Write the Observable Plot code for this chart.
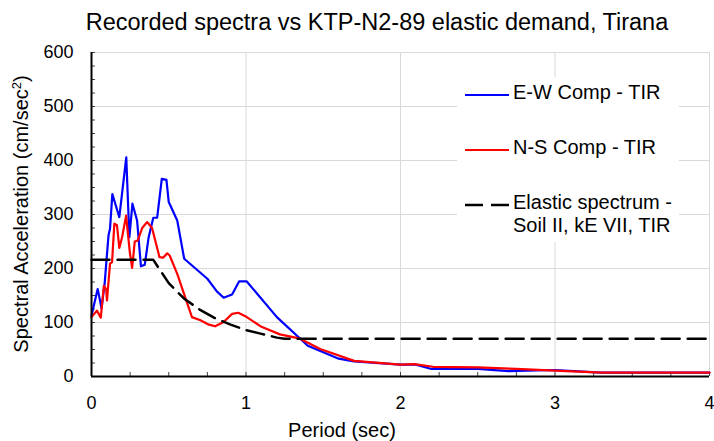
<!DOCTYPE html>
<html><head><meta charset="utf-8">
<script src="https://cdn.jsdelivr.net/npm/d3@7"></script>
<script src="https://cdn.jsdelivr.net/npm/@observablehq/plot@0.6"></script>
<style>
body{margin:0;background:#fff;font-family:"Liberation Sans",Arial,sans-serif;}
#wrap{position:relative;width:714px;height:441px;overflow:hidden;}
#title{position:absolute;left:0;top:9px;width:754px;text-align:center;font-size:23.5px;color:#000;white-space:nowrap;}
#chart{position:absolute;left:0;top:40px;}
#xlabel{position:absolute;left:242px;width:200px;top:419px;text-align:center;font-size:20px;color:#000;}
#ylabel{position:absolute;left:21px;top:214px;transform:translate(-50%,-50%) rotate(-90deg);font-size:20px;color:#000;white-space:nowrap;}
#legend{position:absolute;left:457px;top:77px;width:222px;height:165px;background:#fff;font-size:20px;color:#000;}
.item{position:absolute;left:8px;display:flex;align-items:flex-start;white-space:nowrap;}
.item svg{margin-top:11px;margin-right:4px;}
</style></head><body>
<div id="wrap">
<div id="title">Recorded spectra vs KTP-N2-89 elastic demand, Tirana</div>
<div id="chart"></div>
<div id="xlabel">Period (sec)</div>
<div id="ylabel">Spectral Acceleration (cm/sec<sup style="font-size:13px">2</sup>)</div>
<div id="legend"></div>
</div>
<script>
// E-W component (TIR)
const ewT  = [0, 0.04, 0.055, 0.065, 0.085, 0.11, 0.12, 0.135, 0.18, 0.225, 0.245, 0.265, 0.295, 0.32, 0.345, 0.37, 0.4, 0.425, 0.455, 0.485, 0.5, 0.555, 0.6, 0.75, 0.81, 0.855, 0.91, 0.955, 1.005, 1.2, 1.4, 1.6, 1.7, 2.0, 2.1, 2.2, 2.5, 2.7, 3.0, 3.3, 4.0];
const ewSa = [113, 162, 141, 126, 172, 261, 274, 338, 295, 406, 258, 320, 289, 204, 207, 258, 294, 294, 366, 364, 323, 289, 218, 181, 158, 146, 152, 176, 176, 110, 57, 33, 28, 22, 22, 14, 14, 10, 12, 7, 7];
// N-S component (TIR)
const nsT  = [0, 0.035, 0.06, 0.08, 0.095, 0.1, 0.12, 0.133, 0.148, 0.165, 0.18, 0.198, 0.224, 0.248, 0.263, 0.28, 0.3, 0.328, 0.36, 0.392, 0.44, 0.463, 0.49, 0.506, 0.555, 0.65, 0.705, 0.76, 0.8, 0.855, 0.91, 0.95, 1.005, 1.1, 1.22, 1.35, 1.48, 1.7, 2.0, 2.09, 2.21, 2.5, 2.75, 3.0, 3.3, 4.0];
const nsSa = [110, 122, 109, 168, 162, 141, 209, 212, 283, 280, 238, 258, 298, 230, 201, 250, 252, 275, 286, 275, 221, 220, 228, 224, 190, 110, 104, 96, 93, 101, 116, 118, 110, 92, 78, 70, 51, 29, 22, 23, 18, 17, 14, 11, 7, 7];
// Elastic spectrum - Soil II, kE VII, TIR
const elT  = [0, 0.4, 0.5, 0.6, 0.7, 0.8, 0.9, 1.0, 1.1, 1.2, 1.25, 4.0];
const elSa = [216, 216, 173, 144, 124, 108, 96, 86, 79, 72, 70, 70];

const xTicks = [0, 1, 2, 3, 4];
const xMinor = [0, 0.25, 0.5, 0.75, 1, 1.25, 1.5, 1.75, 2, 2.25, 2.5, 2.75, 3, 3.25, 3.5, 3.75, 4];
const yTicks = [0, 100, 200, 300, 400, 500, 600];
const yMinor = d3.range(0, 601, 25);

const series = [
  {name: "E-W Comp - TIR", T: ewT, Sa: ewSa, color: "#0000ff", width: 2.2, dash: null},
  {name: "N-S Comp - TIR", T: nsT, Sa: nsSa, color: "#ff0000", width: 2.2, dash: null},
  {name: "Elastic spectrum -\nSoil II, kE VII, TIR", T: elT, Sa: elSa, color: "#000000", width: 2.5, dash: "18,8"}
];
const rows = s => s.T.map((t, i) => ({T: t, Sa: s.Sa[i]}));

const W = 714, H = 401, mT = 12, mB = 65, mL = 91, mR = 5;
const plotH = H - mT - mB, plotW = W - mL - mR, tick = 4;

const chart = Plot.plot({
  width: W, height: H,
  marginTop: mT, marginBottom: mB, marginLeft: mL, marginRight: mR,
  style: {fontFamily: "Liberation Sans, Arial, sans-serif", fontSize: "18px", color: "#000", background: "#fff", overflow: "visible"},
  x: {domain: [0, 4], axis: null},
  y: {domain: [0, 600], axis: null},
  marks: [
    Plot.gridY(yTicks, {stroke: "#d9d9d9", strokeOpacity: 1, strokeWidth: 1}),
    Plot.gridX(xTicks.slice(1), {stroke: "#d9d9d9", strokeOpacity: 1, strokeWidth: 1}),
    Plot.tickX(xMinor, {x: d => d, insetTop: plotH - tick, stroke: "#404040", strokeWidth: 1}),
    Plot.tickY(yMinor, {y: d => d, insetRight: plotW - tick, stroke: "#404040", strokeWidth: 1}),
    Plot.axisX(xTicks, {tickSize: 0, tickPadding: 20, fontSize: 18, tickFormat: d => String(d), label: null}),
    Plot.axisY(yTicks, {tickSize: 0, tickPadding: 18, fontSize: 18, tickFormat: d => String(d), label: null}),
    ...series.map(s => Plot.line(rows(s), {x: "T", y: "Sa", stroke: s.color, strokeWidth: s.width, strokeDasharray: s.dash, strokeLinejoin: "round"})),
    Plot.ruleY([0], {stroke: "#000", strokeWidth: 2}),
    Plot.ruleX([0], {stroke: "#000", strokeWidth: 2})
  ]
});
document.getElementById("chart").appendChild(chart);

// legend
const legend = document.getElementById("legend");
const tops = [4, 59, 114];
series.forEach((s, i) => {
  const div = document.createElement("div");
  div.className = "item";
  div.style.top = tops[i] + "px";
  const svg = d3.create("svg").attr("width", 44).attr("height", 6);
  svg.append("line").attr("x1", 0).attr("x2", 44).attr("y1", 3).attr("y2", 3)
    .attr("stroke", s.color).attr("stroke-width", s.width)
    .attr("stroke-dasharray", s.dash ? "18,8" : null);
  div.appendChild(svg.node());
  const txt = document.createElement("div");
  txt.style.lineHeight = "23px";
  txt.innerHTML = s.name.replace("\n", "<br>");
  div.appendChild(txt);
  legend.appendChild(div);
});
</script>
</body></html>
